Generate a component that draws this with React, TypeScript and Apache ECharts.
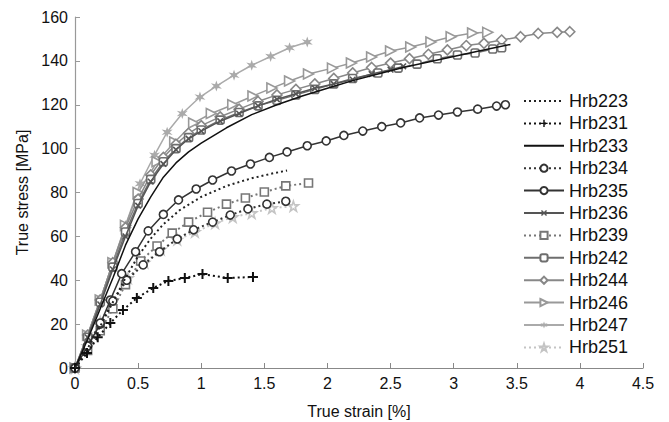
import React, { useEffect, useRef } from "react";
import * as echarts from "echarts";

const xTicks = [0, 0.5, 1, 1.5, 2, 2.5, 3, 3.5, 4, 4.5];
const yTicks = [0, 20, 40, 60, 80, 100, 120, 140, 160];

const seriesNames = [
  "Hrb223", "Hrb231", "Hrb233", "Hrb234", "Hrb235", "Hrb236",
  "Hrb239", "Hrb242", "Hrb244", "Hrb246", "Hrb247", "Hrb251",
];

const hrb223 = [[0,0],[0.1,9],[0.2,19],[0.3,30],[0.4,41],[0.5,51],[0.6,59],[0.7,65.5],[0.83,72],[1.0,78],[1.2,83],[1.4,86.5],[1.55,88.5],[1.68,90]];
const hrb231 = [[0,0],[0.095,6.8],[0.18,14],[0.28,20.5],[0.38,26.4],[0.49,31.9],[0.62,36.5],[0.74,39.7],[0.87,41],[1.01,42.8],[1.21,41],[1.41,41.5]];
const hrb233 = [[0,0],[0.1,13],[0.2,27],[0.3,41],[0.4,56],[0.5,68],[0.6,78],[0.7,87],[0.8,93.5],[0.9,98.5],[1.0,102.5],[1.2,109.5],[1.4,115.5],[1.6,120],[1.8,124],[2.0,127.5],[2.2,131],[2.4,134],[2.6,137],[2.8,139.5],[3.0,142],[3.2,144.5],[3.45,147.5]];
const hrb234 = [[0,0],[0.1,10],[0.2,20.5],[0.3,30.5],[0.41,40],[0.54,47],[0.67,53],[0.81,58.8],[0.94,63],[1.09,66.5],[1.23,69.7],[1.37,72.5],[1.52,74.7],[1.67,76]];
const hrb235 = [[0,0],[0.1,10],[0.2,20],[0.28,31],[0.37,43],[0.48,53],[0.58,62.5],[0.7,70],[0.82,76.6],[0.96,81.6],[1.09,85.7],[1.24,89.8],[1.39,93],[1.54,96],[1.68,98.5],[1.84,101.3],[1.99,103.5],[2.13,106],[2.28,108],[2.43,110],[2.58,111.7],[2.73,114],[2.88,115.3],[3.03,116.7],[3.19,118],[3.34,119.4],[3.41,120]];
const hrb236 = [[0,0],[0.1,14],[0.2,29],[0.3,45],[0.4,60],[0.5,74],[0.6,85],[0.7,93],[0.8,99.5],[0.9,104.5],[1.0,108],[1.15,112.5],[1.3,116],[1.45,119.5],[1.6,122.5],[1.75,125],[1.9,127.5],[2.05,129.5],[2.2,131.5],[2.35,134],[2.5,136],[2.6,137.5]];
const hrb239 = [[0,0],[0.1,8],[0.2,17],[0.3,27],[0.4,38],[0.52,48.8],[0.65,55.6],[0.77,61.5],[0.9,66.5],[1.05,71],[1.2,74.7],[1.35,77.5],[1.5,80.2],[1.67,83],[1.85,84.3]];
const hrb242 = [[0,0],[0.1,14],[0.2,30],[0.3,46],[0.4,62],[0.5,75],[0.6,86],[0.7,94],[0.8,100],[0.9,105],[1.0,108.5],[1.15,113],[1.3,116.5],[1.45,119.5],[1.6,122],[1.75,124.5],[1.9,127],[2.05,129.5],[2.2,132],[2.4,134.5],[2.56,136.7],[2.71,138.5],[2.87,141],[3.03,142.7],[3.17,143.6],[3.31,145.4],[3.38,146]];
const hrb244 = [[0,0],[0.1,15],[0.2,31],[0.3,48],[0.4,64],[0.5,77],[0.6,88],[0.7,96],[0.8,102],[0.9,107],[1.0,110.5],[1.15,114.5],[1.3,118],[1.45,121.5],[1.6,124.5],[1.75,127],[1.9,129.5],[2.05,132],[2.2,134.5],[2.35,137],[2.5,139],[2.65,141],[2.8,143],[2.95,145],[3.1,147],[3.24,148],[3.38,149.5],[3.53,151],[3.67,152.5],[3.82,153],[3.92,153.3]];
const hrb246 = [[0,0],[0.1,15],[0.2,31],[0.3,48],[0.4,65],[0.5,80],[0.65,94],[0.79,103],[0.94,111.7],[1.08,116],[1.25,120],[1.41,124],[1.56,127.6],[1.7,130.8],[1.85,134],[2.04,136.7],[2.19,139],[2.35,141.8],[2.5,144.5],[2.66,146.3],[2.82,148.6],[2.98,151],[3.15,152.7],[3.27,153]];
const hrb247 = [[0,0],[0.1,15],[0.2,31],[0.3,48],[0.4,65],[0.515,84],[0.63,97],[0.73,107.5],[0.85,116],[0.99,123.5],[1.12,128.5],[1.26,133.5],[1.4,138],[1.55,142],[1.7,146],[1.84,148.6]];
const hrb251 = [[0,0],[0.1,10],[0.2,21],[0.3,31],[0.42,41],[0.55,48],[0.68,54],[0.81,58.5],[0.95,62],[1.11,66],[1.25,68.8],[1.4,70.6],[1.56,72.9],[1.73,73.8]];

const seriesData = [hrb223, hrb231, hrb233, hrb234, hrb235, hrb236, hrb239, hrb242, hrb244, hrb246, hrb247, hrb251];

const PLUS = "path://M4,0H6V4H10V6H6V10H4V6H0V4H4Z";
const STAR = "path://M5,0L6,3.3L9.3,2.5L7,5L9.3,7.5L6,6.7L5,10L4,6.7L0.7,7.5L3,5L0.7,2.5L4,3.3Z";
const TRI_R = "path://M0,0L10,5L0,10Z";
const PENTA = "path://M5,0L6.2,3.6L10,3.6L6.9,5.9L8.1,9.5L5,7.3L1.9,9.5L3.1,5.9L0,3.6L3.8,3.6Z";

type Style = { color: string; dotted: boolean; symbol: string; size: number; hollow: boolean; rotate?: number };
const styles: Style[] = [
  { color: "#222", dotted: true, symbol: "circle", size: 0, hollow: false },
  { color: "#111", dotted: true, symbol: PLUS, size: 10, hollow: false },
  { color: "#111", dotted: false, symbol: "circle", size: 0, hollow: false },
  { color: "#333", dotted: true, symbol: "circle", size: 8, hollow: true },
  { color: "#333", dotted: false, symbol: "circle", size: 8, hollow: true },
  { color: "#555", dotted: false, symbol: PLUS, size: 8, hollow: false, rotate: 45 },
  { color: "#777", dotted: true, symbol: "rect", size: 8, hollow: true },
  { color: "#6e6e6e", dotted: false, symbol: "roundRect", size: 8, hollow: true },
  { color: "#888", dotted: false, symbol: "diamond", size: 10, hollow: true },
  { color: "#999", dotted: false, symbol: TRI_R, size: 10, hollow: true },
  { color: "#aaa", dotted: false, symbol: STAR, size: 11, hollow: false },
  { color: "#c4c4c4", dotted: true, symbol: PENTA, size: 10, hollow: true },
];

const FONT = "'Liberation Sans', Arial, Helvetica, sans-serif";

export default function App() {
  const ref = useRef<HTMLDivElement>(null);
  useEffect(() => {
    if (!ref.current) return;
    const chart = echarts.init(ref.current, undefined, { renderer: "svg" });
    const series = seriesNames.map((name, i) => {
      const s = styles[i];
      const noMarker = s.size === 0;
      return {
        name,
        type: "line",
        data: seriesData[i],
        symbol: s.symbol,
        symbolSize: noMarker ? 1 : s.size,
        symbolRotate: s.rotate || 0,
        showSymbol: !noMarker,
        showAllSymbol: true,
        smooth: false,
        lineStyle: { color: s.color, width: s.dotted ? 2 : 1.5, type: s.dotted ? [2, 3] : "solid" },
        itemStyle: noMarker
          ? { color: "rgba(0,0,0,0)", borderColor: "rgba(0,0,0,0)", borderWidth: 0 }
          : s.hollow
          ? { color: "#fff", borderColor: s.color, borderWidth: 1.6 }
          : { color: s.color, borderWidth: 0 },
        z: 12 - i,
      };
    });
    chart.setOption({
      animation: false,
      backgroundColor: "#fff",
      textStyle: { fontFamily: FONT },
      grid: { left: 75, right: 26, top: 17, bottom: 54, containLabel: false, outerBoundsMode: "none" },
      legend: {
        data: seriesNames,
        orient: "vertical",
        left: 518,
        top: 87,
        itemWidth: 40,
        itemHeight: 9,
        itemGap: 4.4,
        textStyle: { fontFamily: FONT, fontSize: 18, color: "#111" },
        selectedMode: false,
      },
      xAxis: {
        type: "value",
        min: 0,
        max: 4.5,
        interval: 0.5,
        name: "True strain [%]",
        nameLocation: "middle",
        nameGap: 35,
        nameTextStyle: { fontFamily: FONT, fontSize: 16, color: "#111" },
        axisLine: { lineStyle: { color: "#888", width: 1.2 } },
        axisTick: { inside: true, length: 5, lineStyle: { color: "#888" } },
        axisLabel: { fontFamily: FONT, fontSize: 16, color: "#111", margin: 7, formatter: (v: number) => String(v) },
        splitLine: { show: false },
      },
      yAxis: {
        type: "value",
        min: 0,
        max: 160,
        interval: 20,
        name: "True stress [MPa]",
        nameLocation: "middle",
        nameGap: 43,
        nameTextStyle: { fontFamily: FONT, fontSize: 16, color: "#111" },
        axisLine: { show: true, lineStyle: { color: "#999", width: 1.2 } },
        axisTick: { show: true, inside: true, length: 5, lineStyle: { color: "#999" } },
        axisLabel: { fontFamily: FONT, fontSize: 16, color: "#111", margin: 7 },
        splitLine: { show: false },
      },
      series,
    });
    return () => chart.dispose();
  }, []);
  return <div ref={ref} style={{ position: "absolute", left: 0, top: 0, width: 669, height: 422 }} />;
}
